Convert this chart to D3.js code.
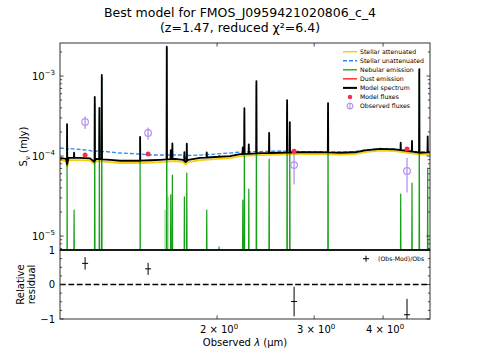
<!DOCTYPE html>
<html>
<head>
<meta charset="utf-8">
<script src="https://cdn.jsdelivr.net/npm/d3@7"></script>
<style>
body{margin:0;background:#fff}
svg{display:block;font-family:"DejaVu Sans",sans-serif}
</style>
</head>
<body>
<div id="chart"></div>
<script>

const title1="Best model for FMOS_J0959421020806_c_4"
const title2="(z=1.47, reduced χ²=6.4)"

// continuum grid (observed micron) and stellar fluxes (mJy)
const specWave=[1.038,1.0647,1.069,1.0758,1.1289,1.1770,1.1970,1.2067,1.2797,1.3343,1.3908,1.4502,1.5122,1.5763,1.6788,1.7358,1.7540,1.7723,1.8633,1.9835,2.1113,2.2016,2.3933,2.6020,2.8285,3.0745,3.3425,3.5585,3.7102,3.9503,4.2051,4.4765,4.6683,4.8662]
const stellarAtt=[8.91e-5,8.66e-5,7.29e-5,8.91e-5,8.91e-5,8.79e-5,7.94e-5,8.66e-5,8.41e-5,8.18e-5,8.18e-5,8.18e-5,8.30e-5,8.41e-5,8.66e-5,8.41e-5,7.83e-5,8.41e-5,8.91e-5,9.17e-5,9.44e-5,1.0e-4,1.029e-4,1.044e-4,1.059e-4,1.059e-4,1.044e-4,1.059e-4,1.122e-4,1.172e-4,1.155e-4,1.09e-4,1.044e-4,1.059e-4]
const stellarUnatt=[1.259e-4,1.241e-4,1.189e-4,1.241e-4,1.206e-4,1.172e-4,1.122e-4,1.155e-4,1.122e-4,1.090e-4,1.075e-4,1.059e-4,1.029e-4,1.029e-4,1.029e-4,1.029e-4,0.944e-4,1.015e-4,1.029e-4,1.059e-4,1.090e-4,1.122e-4,1.138e-4,1.155e-4,1.138e-4,1.122e-4,1.122e-4,1.138e-4,1.189e-4,1.241e-4,1.223e-4,1.155e-4,1.122e-4,1.122e-4]
const nebCont=5.5e-6

// nebular emission lines
const lineWave=[1.069,1.1009,1.2001,1.2236,1.2359,1.4502,1.6211,1.6484,1.6595,1.7449,1.7625,1.9156,2.0165,2.2268,2.2417,2.2833,2.3571,2.4859,2.6794,2.7098,3.1789,4.3058,4.5138,4.6533,4.8194]
const lineFlux=[1.72e-4,1.56e-5,4.6e-4,3.07e-4,9.4e-4,8.6e-5,2.23e-3,2.71e-5,5.24e-5,2.53e-5,5.58e-5,1.56e-5,1.8e-6,2.27e-5,2.9e-4,3.32e-5,7.57e-4,8.6e-5,3.89e-4,1.54e-4,3.48e-4,2.8e-5,4.05e-5,1.11e-3,6.5e-5]
const faintWave=[1.6097,1.6300]
const faintFlux=[1.56e-5,2.6e-5]

// photometry
const filterWave=[1.1527,1.4996,2.7587,4.4208]
const modelFlux=[1.03e-4,1.06e-4,1.15e-4,1.22e-4]
const obsFlux=[2.66e-4,1.94e-4,7.7e-5,6.5e-5]
const obsErr=[4.8e-5,3.4e-5,3.3e-5,3.0e-5]

const xDomain=[1.038,4.866]
const yDomain=[6.69e-6,2.585e-3]
const xTicks=[2,3,4]
const yTicks=[-5,-4,-3]
const resTicks=[-1,0,1]

const legendLabels=["Stellar attenuated","Stellar unattenuated","Nebular emission","Dust emission","Model spectrum","Model fluxes","Observed fluxes"]

const W=478,H=359
const L=60,R=430,T=43,MB=250,RB=319

const cGold="#f7cf10",cBlue="#2b8af2",cGreen="#16a016",cRed="#f2304a",cPurple="#b592ee"

const svg=d3.select("#chart").append("svg").attr("width",W).attr("height",H)

const x=d3.scaleLog().domain(xDomain).range([L,R])
const y=d3.scaleLog().domain(yDomain).range([MB,T])
const yr=d3.scaleLinear().domain([-1,1]).range([RB,MB])

svg.append("defs").append("clipPath").attr("id","clipMain")
.append("rect").attr("x",L).attr("y",T).attr("width",R-L).attr("height",MB-T)
svg.select("defs").append("clipPath").attr("id","clipRes")
.append("rect").attr("x",L).attr("y",MB).attr("width",R-L).attr("height",RB-MB)

// title
svg.append("text").attr("x",240).attr("y",17).attr("text-anchor","middle").attr("font-size",12.5).text(title1)
svg.append("text").attr("x",240).attr("y",31.5).attr("text-anchor","middle").attr("font-size",12.5).text(title2)

// spectrum points
const attAt=d3.scaleLog().domain(specWave).range(stellarAtt)
const eps=0.001
let pts=specWave.map(w=>({w:w,l:0}))
lineWave.forEach((w,i)=>{
pts.push({w:w*(1-eps),l:0},{w:w,l:lineFlux[i]},{w:w*(1+eps),l:0})
})
pts.sort((a,b)=>a.w-b.w)

const main=svg.append("g").attr("clip-path","url(#clipMain)")

main.append("path")
.datum(specWave.map((w,i)=>[w,stellarAtt[i]]))
.attr("d",d3.line().x(d=>x(d[0])).y(d=>y(d[1])))
.attr("fill","none").attr("stroke",cGold).attr("stroke-width",1.8)

main.append("path")
.datum(specWave.map((w,i)=>[w,stellarUnatt[i]]))
.attr("d",d3.line().x(d=>x(d[0])).y(d=>y(d[1])))
.attr("fill","none").attr("stroke",cBlue).attr("stroke-width",1.3).attr("stroke-dasharray","4,2")

main.selectAll("line.faint")
.data(faintWave)
.enter()
.append("line")
.attr("x1",d=>x(d)).attr("x2",d=>x(d))
.attr("y1",y(nebCont))
.attr("y2",(d,i)=>y(nebCont+faintFlux[i]))
.attr("stroke",cGreen).attr("stroke-opacity",0.45).attr("stroke-width",1.2)

main.append("path")
.datum(pts)
.attr("d",d3.line().x(d=>x(d.w)).y(d=>y(nebCont+d.l)))
.attr("fill","none").attr("stroke",cGreen).attr("stroke-width",1.2).attr("stroke-linejoin","round")

main.append("path")
.datum(pts)
.attr("d",d3.line().x(d=>x(d.w)).y(d=>y(attAt(d.w)+nebCont+d.l)))
.attr("fill","none").attr("stroke","#000").attr("stroke-width",1.8).attr("stroke-linejoin","round")

// observed fluxes
filterWave.forEach((w,i)=>{
main.append("line")
.attr("x1",x(w)).attr("x2",x(w))
.attr("y1",y(obsFlux[i]-obsErr[i])).attr("y2",y(obsFlux[i]+obsErr[i]))
.attr("stroke",cPurple).attr("stroke-width",1.3)
main.append("circle")
.attr("cx",x(w)).attr("cy",y(obsFlux[i])).attr("r",3.3)
.attr("fill","none").attr("stroke",cPurple).attr("stroke-width",1.2)
})

main.selectAll("circle.model")
.data(filterWave)
.enter()
.append("circle")
.attr("cx",d=>x(d))
.attr("cy",(d,i)=>y(modelFlux[i]))
.attr("r",2.5)
.attr("fill",cRed)

// residuals
const res=svg.append("g").attr("clip-path","url(#clipRes)")

res.append("line")
.attr("x1",L).attr("x2",R).attr("y1",yr(0)).attr("y2",yr(0))
.attr("stroke","#000").attr("stroke-width",1.5).attr("stroke-dasharray","5.8,2.6")

filterWave.forEach((w,i)=>{
const r=(obsFlux[i]-modelFlux[i])/obsFlux[i]
const e=obsErr[i]/obsFlux[i]
res.append("line")
.attr("x1",x(w)).attr("x2",x(w))
.attr("y1",yr(r-e)).attr("y2",yr(r+e))
.attr("stroke","#000").attr("stroke-width",1)
res.append("line")
.attr("x1",x(w)-3).attr("x2",x(w)+3)
.attr("y1",yr(r)).attr("y2",yr(r))
.attr("stroke","#000").attr("stroke-width",1)
})

// frames
svg.append("rect").attr("x",L).attr("y",T).attr("width",R-L).attr("height",MB-T)
.attr("fill","none").attr("stroke","#333").attr("stroke-width",1)
svg.append("rect").attr("x",L).attr("y",MB).attr("width",R-L).attr("height",RB-MB)
.attr("fill","none").attr("stroke","#333").attr("stroke-width",1)
svg.append("line").attr("x1",L).attr("x2",R).attr("y1",MB).attr("y2",MB)
.attr("stroke","#000").attr("stroke-width",1.4)

// ticks
const tk=svg.append("g").attr("stroke","#222").attr("stroke-width",0.8)

const minorY=y.ticks().filter(v=>Math.abs(Math.log10(v)-Math.round(Math.log10(v)))>1e-6)
minorY.forEach(v=>{
tk.append("line").attr("x1",L).attr("x2",L+2.1).attr("y1",y(v)).attr("y2",y(v))
tk.append("line").attr("x1",R).attr("x2",R-2.1).attr("y1",y(v)).attr("y2",y(v))
})
yTicks.forEach(p=>{
const v=Math.pow(10,p)
tk.append("line").attr("x1",L).attr("x2",L+3.6).attr("y1",y(v)).attr("y2",y(v))
tk.append("line").attr("x1",R).attr("x2",R-3.6).attr("y1",y(v)).attr("y2",y(v))
const t=svg.append("text").attr("x",L-5).attr("y",y(v)+3.5).attr("text-anchor","end").attr("font-size",10)
t.append("tspan").text("10")
t.append("tspan").attr("dy",-4.5).attr("font-size",7).text("−"+Math.abs(p))
})

xTicks.forEach(v=>{
tk.append("line").attr("x1",x(v)).attr("x2",x(v)).attr("y1",T).attr("y2",T+3.6)
tk.append("line").attr("x1",x(v)).attr("x2",x(v)).attr("y1",RB).attr("y2",RB-3.6)
const t=svg.append("text").attr("x",x(v)+2).attr("y",RB+14).attr("text-anchor","middle").attr("font-size",10)
t.append("tspan").text(v+" × 10")
t.append("tspan").attr("dy",-4.5).attr("font-size",7).text("0")
})

d3.range(-1,1.001,0.25).forEach(v=>{
const major=Math.abs(v-Math.round(v))<1e-6
const len=major?3.6:2.1
tk.append("line").attr("x1",L).attr("x2",L+len).attr("y1",yr(v)).attr("y2",yr(v))
tk.append("line").attr("x1",R).attr("x2",R-len).attr("y1",yr(v)).attr("y2",yr(v))
})
resTicks.forEach(v=>{
svg.append("text").attr("x",L-5).attr("y",yr(v)+3.6).attr("text-anchor","end").attr("font-size",10)
.text(v<0?"−"+Math.abs(v):String(v))
})

// axis labels
const yl=svg.append("text").attr("transform","translate(27,"+((T+MB)/2)+") rotate(-90)")
.attr("text-anchor","middle").attr("font-size",10)
yl.append("tspan").text("S")
yl.append("tspan").attr("dy",2.5).attr("font-size",7).text("ν")
yl.append("tspan").attr("dy",-2.5).text(" (mJy)")

svg.append("text").attr("transform","translate(23.5,"+((MB+RB)/2)+") rotate(-90)")
.attr("text-anchor","middle").attr("font-size",10).text("Relative")
svg.append("text").attr("transform","translate(35,"+((MB+RB)/2)+") rotate(-90)")
.attr("text-anchor","middle").attr("font-size",10).text("residual")

const xl=svg.append("text").attr("x",(L+R)/2).attr("y",346).attr("text-anchor","middle").attr("font-size",10)
xl.append("tspan").text("Observed ")
xl.append("tspan").attr("font-style","italic").text("λ")
xl.append("tspan").text(" (μm)")

// legend
const lg=svg.append("g")
legendLabels.forEach((lab,i)=>{
const cy=51.7+9.05*i
lg.append("text").attr("x",360).attr("y",cy+2.2).attr("font-size",6.2).text(lab)
if(i===0)lg.append("line").attr("x1",343).attr("x2",357).attr("y1",cy).attr("y2",cy).attr("stroke",cGold).attr("stroke-width",1.5)
if(i===1)lg.append("line").attr("x1",343).attr("x2",357).attr("y1",cy).attr("y2",cy).attr("stroke",cBlue).attr("stroke-width",1.3).attr("stroke-dasharray","4,2")
if(i===2)lg.append("line").attr("x1",343).attr("x2",357).attr("y1",cy).attr("y2",cy).attr("stroke",cGreen).attr("stroke-width",1.3)
if(i===3)lg.append("line").attr("x1",343).attr("x2",357).attr("y1",cy).attr("y2",cy).attr("stroke","#ff1010").attr("stroke-width",1.3)
if(i===4)lg.append("line").attr("x1",343).attr("x2",357).attr("y1",cy).attr("y2",cy).attr("stroke","#000").attr("stroke-width",2)
if(i===5)lg.append("circle").attr("cx",350).attr("cy",cy).attr("r",2.2).attr("fill",cRed)
if(i===6){
lg.append("line").attr("x1",350).attr("x2",350).attr("y1",cy-3.5).attr("y2",cy+3.5).attr("stroke",cPurple).attr("stroke-width",1.1)
lg.append("circle").attr("cx",350).attr("cy",cy).attr("r",2.8).attr("fill","none").attr("stroke",cPurple).attr("stroke-width",1.1)
}
})

// residual legend
lg.append("line").attr("x1",363).attr("x2",369).attr("y1",258.7).attr("y2",258.7).attr("stroke","#000").attr("stroke-width",1)
lg.append("line").attr("x1",366).attr("x2",366).attr("y1",255.7).attr("y2",261.7).attr("stroke","#000").attr("stroke-width",1)
lg.append("text").attr("x",378).attr("y",260.9).attr("font-size",6.2).text("(Obs-Mod)/Obs")

</script>
</body>
</html>
